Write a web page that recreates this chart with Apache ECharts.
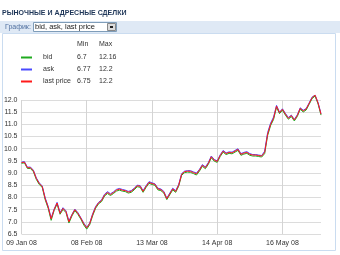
<!DOCTYPE html>
<html><head><meta charset="utf-8">
<script src="https://cdn.jsdelivr.net/npm/echarts@6/dist/echarts.min.js"></script>
<style>html,body{margin:0;padding:0;background:#fff}#c{width:340px;height:255px}</style>
</head><body><div id="c"></div>
<script>
var seriesNames = ['bid', 'ask', 'last price'];
var tickLabels = ['09 Jan 08', '08 Feb 08', '13 Mar 08', '14 Apr 08', '16 May 08'];
var tickIndex = [0, 22, 44, 66, 88];
var yTicks = [6.5, 7.0, 7.5, 8.0, 8.5, 9.0, 9.5, 10.0, 10.5, 11.0, 11.5, 12.0];

var lastPrice = [9.43,9.45,9.22,9.22,9.1,8.78,8.57,8.45,7.95,7.6,7.12,7.5,7.77,7.35,7.55,7.42,7.0,7.28,7.5,7.35,7.15,6.92,6.75,6.93,7.3,7.6,7.78,7.87,8.1,8.2,8.12,8.2,8.3,8.34,8.3,8.28,8.22,8.25,8.35,8.48,8.46,8.25,8.45,8.62,8.57,8.54,8.35,8.32,8.22,7.95,8.15,8.35,8.25,8.5,8.95,9.06,9.08,9.07,9.02,8.97,9.12,9.32,9.22,9.4,9.67,9.53,9.48,9.72,9.9,9.8,9.85,9.83,9.9,9.97,9.77,9.82,9.85,9.77,9.74,9.74,9.72,9.7,9.85,10.6,11.0,11.25,11.75,11.48,11.62,11.42,11.25,11.36,11.18,11.36,11.66,11.55,11.63,11.86,12.1,12.2,11.88,11.42];
var ask = [9.45,9.47,9.24,9.25,9.12,8.8,8.6,8.47,7.98,7.63,7.15,7.52,7.8,7.38,7.58,7.45,7.03,7.3,7.52,7.38,7.17,6.95,6.77,6.95,7.33,7.63,7.8,7.9,8.13,8.24,8.15,8.23,8.33,8.37,8.33,8.3,8.25,8.28,8.38,8.5,8.49,8.28,8.48,8.65,8.6,8.56,8.38,8.35,8.25,7.97,8.18,8.38,8.28,8.53,8.98,9.08,9.1,9.1,9.05,9.0,9.15,9.35,9.25,9.43,9.7,9.56,9.5,9.75,9.93,9.83,9.87,9.86,9.93,10.0,9.8,9.85,9.88,9.8,9.76,9.76,9.74,9.72,9.9,10.66,11.05,11.3,11.78,11.5,11.64,11.45,11.28,11.38,11.2,11.39,11.68,11.58,11.65,11.88,12.12,12.2,11.9,11.44];
var bid = [9.4,9.42,9.19,9.19,9.06,8.74,8.53,8.41,7.9,7.55,7.06,7.46,7.73,7.31,7.51,7.38,6.95,7.24,7.46,7.31,7.11,6.87,6.7,6.88,7.25,7.56,7.74,7.83,8.06,8.16,8.08,8.16,8.26,8.3,8.26,8.24,8.18,8.21,8.31,8.44,8.42,8.21,8.41,8.58,8.53,8.5,8.31,8.28,8.18,7.91,8.11,8.31,8.21,8.46,8.91,9.02,9.04,9.03,8.98,8.92,9.08,9.28,9.18,9.36,9.63,9.49,9.44,9.68,9.86,9.76,9.81,9.79,9.86,9.93,9.73,9.78,9.81,9.73,9.7,9.7,9.68,9.66,9.8,10.54,10.95,11.2,11.7,11.44,11.58,11.38,11.21,11.32,11.14,11.32,11.62,11.51,11.59,11.82,12.06,12.16,11.84,11.38];

var colors = ['#1faa1f', '#4a4aff', '#ff1a1a'];
var dataSets = [bid, ask, lastPrice];
var categories = lastPrice.map(function (v, i) { return String(i); });

function stat(arr) {
  return { min: Math.min.apply(null, arr), max: Math.max.apply(null, arr) };
}
var stats = {};
seriesNames.forEach(function (n, k) { stats[n] = stat(dataSets[k]); });

var chart = echarts.init(document.getElementById('c'), null, { renderer: 'canvas' });
var FONT = 'Liberation Sans, Arial, sans-serif';

var option = {
  animation: false,
  backgroundColor: '#ffffff',
  color: colors,
  textStyle: { fontFamily: FONT },
  graphic: [
    { type: 'rect', shape: { x: 2.5, y: 33.5, width: 333, height: 217 }, style: { fill: 'none', stroke: '#cadcf0', lineWidth: 1 }, z: 0 },
    { type: 'text', x: 2, y: 13, style: { text: 'РЫНОЧНЫЕ И АДРЕСНЫЕ СДЕЛКИ', fill: '#1d3557', font: 'bold 7px ' + FONT, textVerticalAlign: 'middle' } },
    { type: 'rect', shape: { x: 0, y: 21, width: 340, height: 12 }, style: { fill: '#dfe9f5' } },
    { type: 'text', x: 5, y: 27.5, style: { text: 'График:', fill: '#4f6f9f', font: '7px ' + FONT, textVerticalAlign: 'middle' } },
    { type: 'rect', shape: { x: 33.5, y: 22.5, width: 83, height: 9 }, style: { fill: '#ffffff', stroke: '#7f9db9', lineWidth: 1 } },
    { type: 'text', x: 35, y: 27.2, style: { text: 'bid, ask, last price', fill: '#222', font: '7.5px ' + FONT, textVerticalAlign: 'middle' } },
    { type: 'rect', shape: { x: 107.5, y: 23.5, width: 8, height: 7 }, style: { fill: '#dcdcdc', stroke: '#888', lineWidth: 1 } },
    { type: 'rect', shape: { x: 110, y: 26, width: 3, height: 2 }, style: { fill: '#222' } },
    { type: 'text', x: 77, y: 44, style: { text: 'Min', fill: '#333', font: '7px ' + FONT, textVerticalAlign: 'middle' } },
    { type: 'text', x: 99, y: 44, style: { text: 'Max', fill: '#333', font: '7px ' + FONT, textVerticalAlign: 'middle' } }
  ],
  legend: {
    orient: 'vertical',
    left: 21,
    top: 54,
    padding: 0,
    itemWidth: 11,
    itemHeight: 2,
    itemGap: 5,
    icon: 'rect',
    selectedMode: false,
    data: seriesNames,
    formatter: function (name) {
      var s = stats[name];
      return '{n|' + name + '}{a|' + s.min + '}{b|' + s.max + '}';
    },
    textStyle: {
      color: '#333', fontSize: 7, fontFamily: FONT,
      rich: {
        n: { width: 34, height: 8, padding: [0, 0, 0, 6], fontSize: 7, fontFamily: FONT, color: '#333' },
        a: { width: 22, height: 8, fontSize: 7, fontFamily: FONT, color: '#333' },
        b: { width: 30, height: 8, fontSize: 7, fontFamily: FONT, color: '#333' }
      }
    }
  },
  grid: { left: 21.5, right: 19, top: 100, bottom: 21, containLabel: false },
  xAxis: {
    type: 'category',
    data: categories,
    boundaryGap: false,
    axisLine: { show: false },
    axisTick: { show: false },
    axisLabel: {
      color: '#333', fontSize: 7, fontFamily: FONT, margin: 6,
      interval: function (i) { return tickIndex.indexOf(i) >= 0; },
      formatter: function (v, i) { var k = tickIndex.indexOf(i); return k >= 0 ? tickLabels[k] : ''; }
    },
    splitLine: {
      show: true,
      interval: function (i) { return tickIndex.indexOf(i) >= 0; },
      lineStyle: { color: '#d4d4d4', width: 1 }
    }
  },
  yAxis: {
    type: 'value',
    min: yTicks[0],
    max: yTicks[yTicks.length - 1],
    interval: 0.5,
    axisLine: { show: false },
    axisTick: { show: false },
    axisLabel: { color: '#333', fontSize: 7, fontFamily: FONT, margin: 4, formatter: function (v) { return v.toFixed(1); } },
    splitLine: { show: true, lineStyle: { color: '#dcdcdc', width: 1 } }
  },
  series: seriesNames.map(function (n, k) {
    return {
      name: n, type: 'line', data: dataSets[k], symbol: 'none', showSymbol: false, clip: false,
      lineStyle: { width: 1, color: colors[k] }, itemStyle: { color: colors[k] }, z: 2 + k
    };
  })
};
chart.setOption(option);
</script></body></html>
